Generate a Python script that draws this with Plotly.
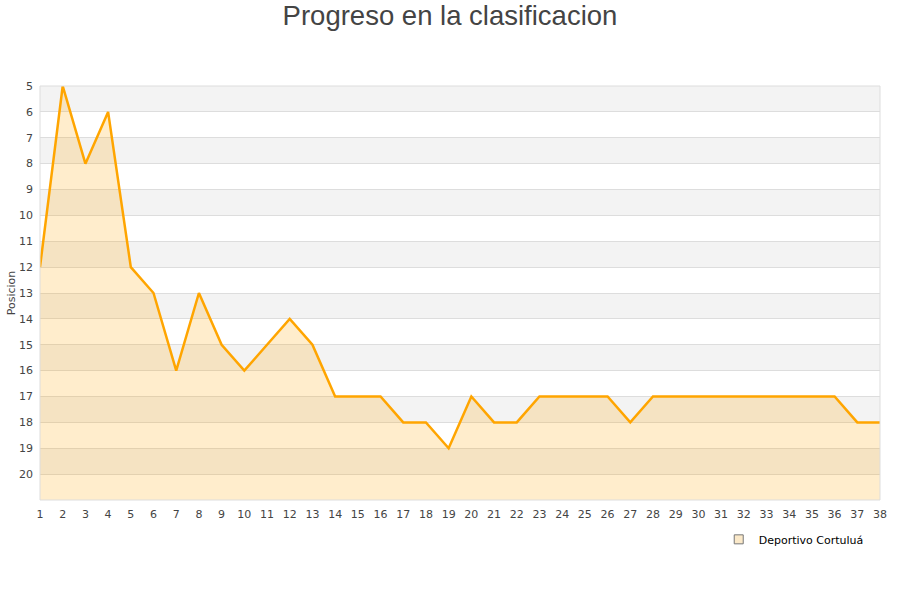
import plotly.graph_objects as go

jornadas = list(range(1, 39))
posicion = [12, 5, 8, 6, 12, 13, 16, 13, 15, 16, 15, 14, 15, 17, 17, 17, 18, 18, 19, 17,
            18, 18, 17, 17, 17, 17, 18, 17, 17, 17, 17, 17, 17, 17, 17, 17, 18, 18]
team = "Deportivo Cortuluá"
y_ticks = list(range(5, 21))
band_starts = [5, 7, 9, 11, 13, 15, 17, 19]
bottom = 21

fig = go.Figure()
fig.add_trace(go.Scatter(x=jornadas, y=[bottom] * len(jornadas), mode="lines",
                         line=dict(width=0), showlegend=False, hoverinfo="skip"))
fig.add_trace(go.Scatter(x=jornadas, y=posicion, mode="lines", name=team,
                         line=dict(color="#FFA500", width=2.5), showlegend=False,
                         fill="tonexty", fillcolor="rgba(255,165,0,0.2)"))
fig.add_trace(go.Scatter(x=[None], y=[None], mode="markers", name=team,
                         marker=dict(symbol="square", size=9, color="#fbe9c9",
                                     line=dict(color="#777777", width=1))))

shapes = []
for b in band_starts:
    shapes.append(dict(type="rect", xref="paper", yref="y", x0=0, x1=1, y0=b, y1=b + 1,
                       fillcolor="#f3f3f3", line=dict(width=0), layer="below"))
shapes.append(dict(type="rect", xref="paper", yref="paper", x0=0, x1=1, y0=0, y1=1,
                   line=dict(color="#dddddd", width=1), fillcolor="rgba(0,0,0,0)", layer="above"))

fig.update_layout(
    width=900, height=600,
    margin=dict(l=40, r=20, t=86, b=100, autoexpand=False),
    paper_bgcolor="white", plot_bgcolor="white",
    font=dict(family="DejaVu Sans", size=11, color="#444444"),
    title=dict(text="Progreso en la clasificacion", x=0.5, xanchor="center", y=0.975, yanchor="middle",
               font=dict(family="Liberation Sans", size=27.5, color="#444444")),
    shapes=shapes,
    showlegend=True,
    legend=dict(x=0.808, y=-0.095, xanchor="left", yanchor="middle", itemwidth=30,
                font=dict(size=11, color="#000000"), bgcolor="rgba(0,0,0,0)"),
    xaxis=dict(range=[1, 38], tickmode="array", tickvals=jornadas, ticktext=[str(j) for j in jornadas],
               showgrid=False, zeroline=False, showline=False, ticks="", tickfont=dict(size=11),
               ticklabelstandoff=6, automargin=False),
    yaxis=dict(range=[bottom, 5], tickmode="array", tickvals=y_ticks, ticktext=[str(v) for v in y_ticks],
               showgrid=True, gridcolor="#dddddd", gridwidth=1, zeroline=False, showline=False,
               ticks="", tickfont=dict(size=11), ticklabelstandoff=6, automargin=False,
               title=dict(text="Posicion", font=dict(size=11), standoff=1)),
)

fig.write_html("out.html", config={"displayModeBar": False},
               post_script="document.body.style.margin='0';")
